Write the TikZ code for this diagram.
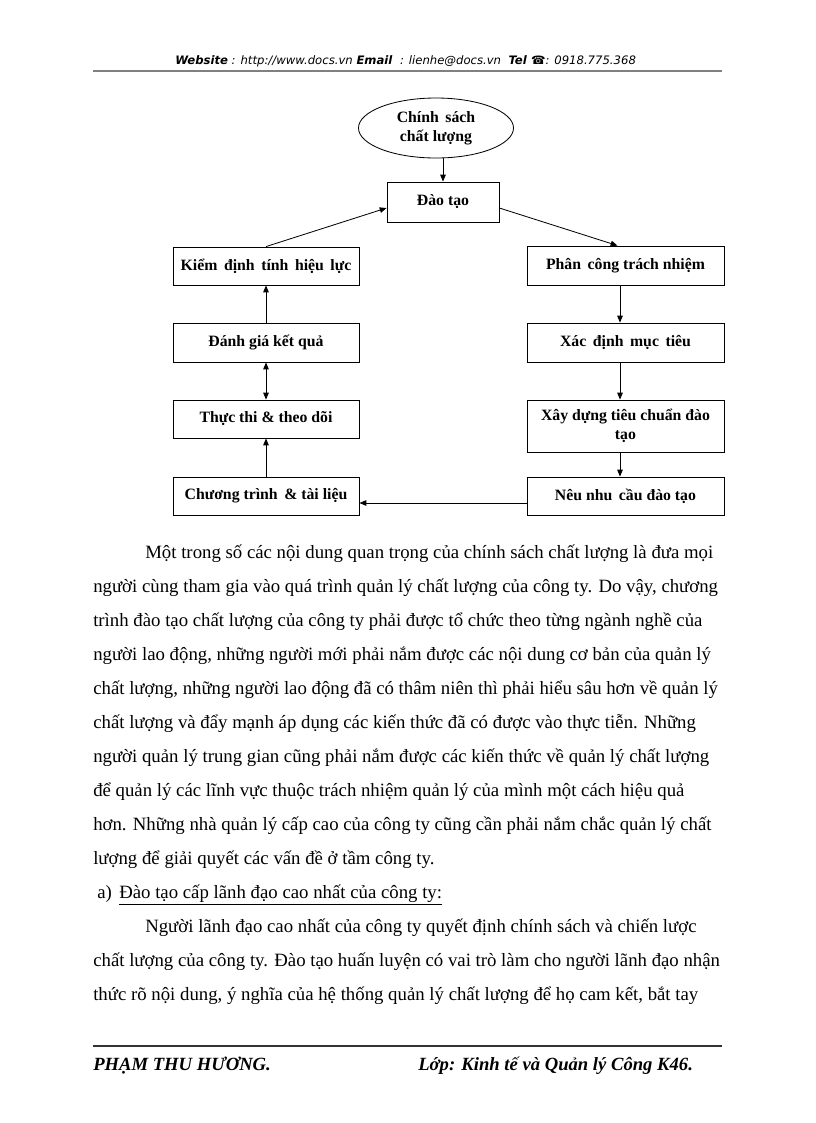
\documentclass[tikz,border=0pt]{standalone}
\usepackage{fontspec}
\setmainfont{Liberation Serif}
\newfontfamily\hdrfont{DejaVu Sans}
\usetikzlibrary{arrows.meta,shapes.geometric,calc}
\def\pxu{0.7295pt}
\begin{document}
\begin{tikzpicture}[x=0.7295pt,y=-0.7295pt,
  box/.style={draw,line width=0.6pt,rectangle,inner sep=1pt,align=center,font=\fontsize{11.5}{14}\selectfont\bfseries},
  oval/.style={draw,line width=0.6pt,ellipse,inner sep=0pt,align=center,font=\fontsize{11.5}{14}\selectfont\bfseries},
  arr/.style={line width=0.6pt,-{Triangle[length=5pt,width=4pt]}},
  darr/.style={line width=0.6pt,{Triangle[length=5pt,width=4pt]}-{Triangle[length=5pt,width=4pt]}},
  body/.style={anchor=base west,inner sep=0pt,font=\fontsize{13.7}{16}\selectfont},
  foot/.style={anchor=base west,inner sep=0pt,font=\fontsize{13.6}{16}\selectfont\bfseries\itshape},
  hdr/.style={anchor=base west,inner sep=0pt,font=\hdrfont\fontsize{8.5}{10}\selectfont}
]
\useasboundingbox[fill=white] (0,0) rectangle (816,1123);

% header
\node[hdr] (head) at (175,64) {\textbf{\textit{Website}}\textit{ : http://www.docs.vn }\textbf{\textit{Email}}\textit{\ \ : lienhe@docs.vn\ \ }\textbf{\textit{Tel}}\textbf{ ☎}\textit{: 0918.775.368}};
\draw[gray,line width=0.8pt] (93,71) -- (722,71);

% diagram
\node[oval,minimum width=155*\pxu,minimum height=60*\pxu] (ell) at (436,128) {Chính\ \,sách\\chất lượng};
\node[box,minimum width=112*\pxu,minimum height=40*\pxu] (dao) at (443,202) {Đào tạo};
\node[box,minimum width=186*\pxu,minimum height=38*\pxu] (kiem) at (266,266) {Kiểm\,\ định\,\ tính\,\ hiệu\,\ lực};
\node[box,minimum width=186*\pxu,minimum height=39*\pxu] (danh) at (266,342.5) {Đánh giá kết quả};
\node[box,minimum width=186*\pxu,minimum height=38*\pxu] (thuc) at (266,419) {Thực thi \& theo dõi};
\node[box,minimum width=186*\pxu,minimum height=38*\pxu] (chuong) at (266,496) {Chương trình\,\ \& tài liệu};
\node[box,minimum width=197*\pxu,minimum height=39*\pxu] (phan) at (625.5,265.5) {Phân\,\ công trách nhiệm};
\node[box,minimum width=197*\pxu,minimum height=39*\pxu] (xac) at (625.5,342.5) {Xác\,\ định\,\ mục\,\ tiêu};
\node[box,minimum width=197*\pxu,minimum height=52*\pxu] (xay) at (625.5,426) {Xây dựng tiêu chuẩn đào\\tạo};
\node[box,minimum width=197*\pxu,minimum height=38*\pxu] (neu) at (625.5,496) {Nêu nhu\,\ cầu đào tạo};

\coordinate (rx) at (620,0);
\coordinate (ly) at (0,503);
\draw[arr] (dao.north |- ell.south) -- (dao.north);
\draw[arr] (kiem.north) -- ($(dao.west)+(0,6)$);
\draw[arr] ($(dao.east)+(0,6)$) -- ($(phan.north)+(-8,0)$);
\draw[arr] (phan.south -| rx) -- (xac.north -| rx);
\draw[arr] (xac.south -| rx) -- (xay.north -| rx);
\draw[arr] (xay.south -| rx) -- (neu.north -| rx);
\draw[arr] (neu.west |- ly) -- (chuong.east |- ly);
\draw[arr] (chuong.north) -- (thuc.south);
\draw[darr] (danh.south) -- (thuc.north);
\draw[arr] (danh.north) -- (kiem.south);

% body text
\node[body] (l1) at (145,558) {Một trong số các nội dung quan trọng của chính sách chất lượng là đưa mọi};
\node[body] (l2) at (93,592) {người cùng tham gia vào quá trình quản lý chất lượng của công ty. Do vậy, chương};
\node[body] (l3) at (93,626) {trình đào tạo chất lượng của công ty phải được tổ chức theo từng ngành nghề của};
\node[body] (l4) at (93,660) {người lao động, những người mới phải nắm được các nội dung cơ bản của quản lý};
\node[body] (l5) at (93,694) {chất lượng, những người lao động đã có thâm niên thì phải hiểu sâu hơn về quản lý};
\node[body] (l6) at (93,728) {chất lượng và đẩy mạnh áp dụng các kiến thức đã có được vào thực tiễn. Những};
\node[body] (l7) at (93,762) {người quản lý trung gian cũng phải nắm được các kiến thức về quản lý chất lượng};
\node[body] (l8) at (93,796) {để quản lý các lĩnh vực thuộc trách nhiệm quản lý của mình một cách hiệu quả};
\node[body] (l9) at (93,830) {hơn. Những nhà quản lý cấp cao của công ty cũng cần phải nắm chắc quản lý chất};
\node[body] (l10) at (93,864) {lượng để giải quyết các vấn đề ở tầm công ty.};
\node[body] (l11a) at (97,898) {a)};
\node[body] (l11) at (119,898) {\underline{Đào tạo cấp lãnh đạo cao nhất của công ty:}};
\node[body] (l12) at (145,932) {Người lãnh đạo cao nhất của công ty quyết định chính sách và chiến lược};
\node[body] (l13) at (93,966) {chất lượng của công ty. Đào tạo huấn luyện có vai trò làm cho người lãnh đạo nhận};
\node[body] (l14) at (93,1000) {thức rõ nội dung, ý nghĩa của hệ thống quản lý chất lượng để họ cam kết, bắt tay};

% footer
\draw[black!80,line width=1.2pt] (93,1046) -- (722,1046);
\node[foot] (f1) at (93,1070) {PHẠM THU HƯƠNG.};
\node[foot] (f2) at (418,1070) {Lớp: Kinh tế và Quản lý Công K46.};
\end{tikzpicture}
\end{document}
